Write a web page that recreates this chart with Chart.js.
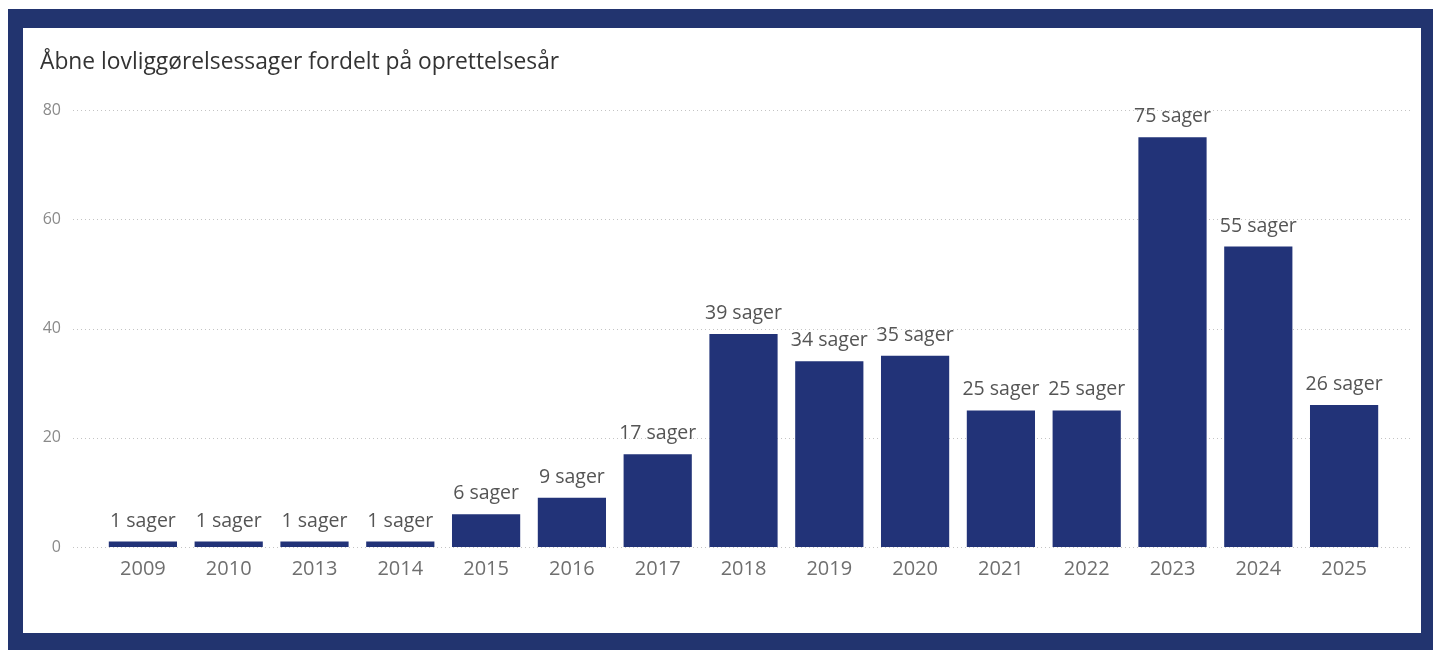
<!DOCTYPE html>
<html>
<head>
<meta charset="utf-8">
<script src="https://cdn.jsdelivr.net/npm/chart.js@4"></script>
<style>
  html, body { margin: 0; padding: 0; background: #ffffff; width: 1433px; height: 650px; overflow: hidden; }
  #frame { position: absolute; left: 8px; top: 9px; width: 1425px; height: 641px; background: #22346f; }
  #panel { position: absolute; left: 23px; top: 28px; width: 1398px; height: 605px; background: #ffffff; }
  #title { position: absolute; left: 17px; top: 21px; font-family: "Open Sans", "Noto Sans", sans-serif; font-size: 22.8px; line-height: 23px; color: #333333; white-space: nowrap; }
  #c { position: absolute; left: 0; top: 0; }
</style>
</head>
<body>
<div id="frame"></div>
<div id="panel">
  <canvas id="c" width="1398" height="605"></canvas>
  <div id="title">Åbne lovliggørelsessager fordelt på oprettelsesår</div>
</div>
<script>
const categories = ["2009", "2010", "2013", "2014", "2015", "2016", "2017", "2018", "2019", "2020", "2021", "2022", "2023", "2024", "2025"];
const values = [1, 1, 1, 1, 6, 9, 17, 39, 34, 35, 25, 25, 75, 55, 26];
const labelSuffix = " sager";
const yTicks = [0, 20, 40, 60, 80];

const FONT = '"Open Sans", "Noto Sans", sans-serif';

const gridPlugin = {
  id: 'dottedGrid',
  beforeDatasetsDraw(chart) {
    const ctx = chart.ctx;
    const y = chart.scales.y;
    ctx.save();
    ctx.strokeStyle = '#c4c4c4';
    ctx.lineWidth = 1;
    ctx.setLineDash([1, 3]);
    yTicks.forEach(v => {
      const py = Math.round(y.getPixelForValue(v)) + 0.5;
      ctx.beginPath();
      ctx.moveTo(50, py);
      ctx.lineTo(1389, py);
      ctx.stroke();
    });
    ctx.restore();
  }
};

const labelPlugin = {
  id: 'barLabels',
  afterDatasetsDraw(chart) {
    const ctx = chart.ctx;
    const meta = chart.getDatasetMeta(0);
    ctx.save();
    ctx.font = '19.5px ' + FONT;
    ctx.fillStyle = '#555555';
    ctx.textAlign = 'center';
    ctx.textBaseline = 'alphabetic';
    meta.data.forEach((bar, i) => {
      ctx.fillText(values[i] + labelSuffix, bar.x, bar.y - 15);
    });
    ctx.restore();
  }
};

new Chart(document.getElementById('c'), {
  type: 'bar',
  data: {
    labels: categories,
    datasets: [{
      data: values,
      backgroundColor: '#223378',
      borderWidth: 0,
      categoryPercentage: 0.795,
      barPercentage: 1.0
    }]
  },
  options: {
    responsive: false,
    animation: false,
    layout: { padding: { top: 82, right: 34, left: 0, bottom: 0 } },
    plugins: { legend: { display: false }, tooltip: { enabled: false }, title: { display: false } },
    scales: {
      x: {
        grid: { display: false, drawTicks: false },
        border: { display: false },
        ticks: { color: '#6f6f6f', font: { size: 20, family: FONT }, padding: 10, maxRotation: 0 },
        afterFit(scale) { scale.height = 86; }
      },
      y: {
        min: 0, max: 80,
        afterBuildTicks(scale) { scale.ticks = yTicks.map(v => ({ value: v })); },
        grid: { display: false, drawTicks: false },
        border: { display: false },
        ticks: { color: '#8a8a8a', font: { size: 16, family: FONT }, padding: 39 },
        afterFit(scale) { scale.width = 77; }
      }
    }
  },
  plugins: [gridPlugin, labelPlugin]
});
</script>
</body>
</html>
